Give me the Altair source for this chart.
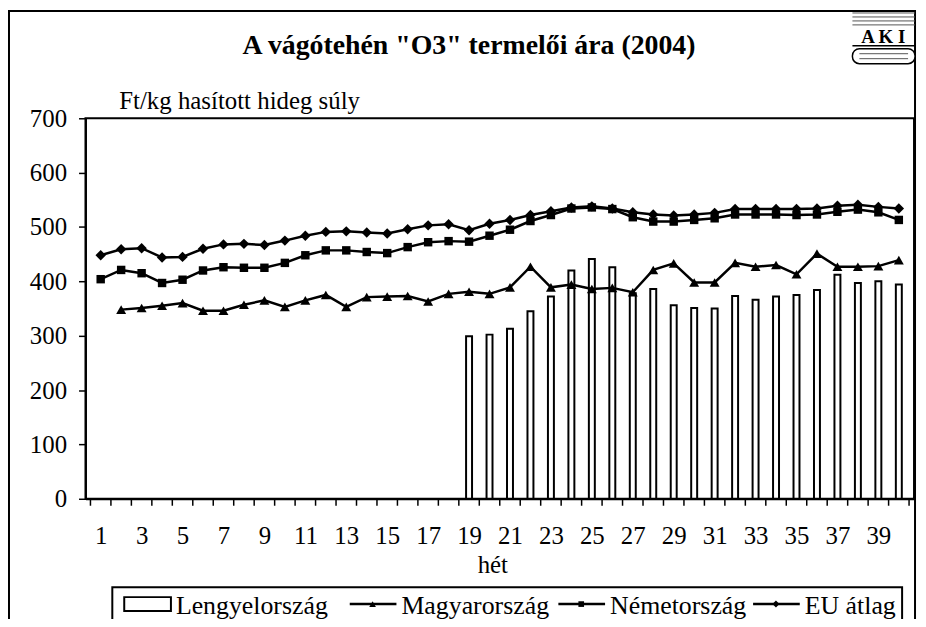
import altair as alt
import pandas as pd

weeks = list(range(1, 41))
poland = [None] * 18 + [299, 302, 313, 345, 372, 420, 441, 426, 378, 386, 356, 351,
                        350, 373, 366, 372, 375, 384, 412, 397, 400, 394]
hungary = [None, 348, 351, 355, 360, 346, 346, 357, 365, 353, 365, 375, 353, 371, 372,
           373, 363, 377, 381, 377, 389, 427, 389, 394, 386, 388, 380, 421, 433, 398,
           398, 434, 427, 430, 413, 451, 427, 427, 428, 439]
germany = [404, 421, 415, 397, 403, 420, 426, 425, 425, 434, 448, 457, 457, 454, 452,
           463, 472, 474, 473, 484, 495, 511, 522, 534, 536, 533, 518, 510, 510, 513,
           516, 523, 523, 523, 522, 523, 528, 532, 527, 513]
eu = [448, 459, 461, 444, 445, 460, 468, 469, 467, 475, 484, 491, 492, 490, 488, 496,
      503, 505, 494, 506, 513, 522, 529, 536, 538, 534, 527, 523, 521, 523, 526, 533,
      533, 533, 533, 534, 539, 541, 537, 534]
x_labels = list(range(1, 40, 2))
y_ticks = list(range(0, 701, 100))

title_text = 'A vágótehén "O3" termelői ára (2004)'
y_title = "Ft/kg hasított hideg súly"
x_title = "hét"
legend_names = ["Lengyelország", "Magyarország", "Németország", "EU átlag"]

FONT = "Times New Roman, Liberation Serif, serif"
W, H = 834, 383

df = pd.DataFrame({"week": weeks, "pl": poland, "hu": hungary, "de": germany, "eu": eu})
tick_df = pd.DataFrame({"b": [w - 0.5 for w in weeks] + [weeks[-1] + 0.5]})

xscale = alt.Scale(domain=[0.5, 40.5], nice=False, zero=False)
xaxis = alt.Axis(values=x_labels, ticks=False, tickSize=0, labelPadding=25, title=None,
                 domainWidth=2, labelFlush=False, labelOverlap=False, labelAngle=0,
                 labelFont=FONT)
yscale = alt.Scale(domain=[0, 700], nice=False, zero=True)
yaxis = alt.Axis(values=y_ticks, tickSize=7, tickWidth=1.5, labelPadding=12, title=None,
                 domainWidth=2, labelFont=FONT)


def X(f):
    return alt.X(f"{f}:Q", scale=xscale, axis=xaxis)


def Y(f):
    return alt.Y(f"{f}:Q", scale=yscale, axis=yaxis)


layers = []

one = pd.DataFrame({"t": [""]})
layers.append(alt.Chart(one).mark_rect(fillOpacity=0, stroke="black", strokeWidth=2).encode(
    x=alt.value(-77), x2=alt.value(835), y=alt.value(-108), y2=alt.value(530)))

bars = alt.Chart(df).mark_bar(size=6, fill="white", stroke="black", strokeWidth=2).encode(
    x=X("week"), y=Y("pl"))
layers.append(bars)

ticks = alt.Chart(tick_df).mark_rule(color="black", strokeWidth=1.5).encode(
    x=X("b"), y=alt.value(H), y2=alt.value(H + 7))
layers.append(ticks)

series = [("hu", "triangle-up", 100), ("de", "square", 72), ("eu", "diamond", 110)]
for f, shape, size in series:
    layers.append(alt.Chart(df).mark_line(color="black", strokeWidth=2.5).encode(
        x=X("week"), y=Y(f)))
    layers.append(alt.Chart(df).mark_point(shape=shape, size=size, filled=True, color="black",
                                           opacity=1).encode(x=X("week"), y=Y(f)))


def txt(s, x, y, size, bold=False, align="left"):
    return alt.Chart(pd.DataFrame({"t": [s]})).mark_text(
        font=FONT, fontSize=size, fontWeight="bold" if bold else "normal", align=align,
        baseline="alphabetic", color="black").encode(
        x=alt.value(x), y=alt.value(y), text="t:N")


layers.append(txt(title_text, 386, -65, 28, bold=True, align="center"))
layers.append(txt(y_title, 34, -9, 25))
layers.append(txt(x_title, 410, 458, 25, align="center"))

layers.append(alt.Chart(one).mark_rect(fill="white", stroke="black", strokeWidth=2).encode(
    x=alt.value(27), x2=alt.value(822), y=alt.value(472), y2=alt.value(540)))
layers.append(alt.Chart(one).mark_rect(fill="white", stroke="black", strokeWidth=2).encode(
    x=alt.value(39), x2=alt.value(86), y=alt.value(482), y2=alt.value(496)))
layers.append(txt(legend_names[0], 91, 499, 26))
for (f, shape, size), x0, name in zip(series, [266, 476, 672], legend_names[1:]):
    layers.append(alt.Chart(one).mark_rule(color="black", strokeWidth=2.5).encode(
        x=alt.value(x0), x2=alt.value(x0 + 47), y=alt.value(489)))
    layers.append(alt.Chart(one).mark_point(shape=shape, size=size * 0.45, filled=True,
                                            color="black", opacity=1).encode(
        x=alt.value(x0 + 23), y=alt.value(489)))
    layers.append(txt(name, x0 + 52, 499, 26))

for yy in [-106, -102, -98, -94]:
    layers.append(alt.Chart(one).mark_rule(color="#555", strokeWidth=1).encode(
        x=alt.value(772), x2=alt.value(835), y=alt.value(yy)))
layers.append(txt("A K I", 803, -76, 19, bold=True, align="center"))
layers.append(alt.Chart(one).mark_rule(color="black", strokeWidth=1.5).encode(
    x=alt.value(772), x2=alt.value(835), y=alt.value(-73)))
layers.append(alt.Chart(one).mark_rect(fill="white", stroke="black", strokeWidth=1.5,
                                       cornerRadius=7).encode(
    x=alt.value(772), x2=alt.value(835), y=alt.value(-70), y2=alt.value(-55)))
for yy in [-65, -60]:
    layers.append(alt.Chart(one).mark_rule(color="#555", strokeWidth=1).encode(
        x=alt.value(779), x2=alt.value(828), y=alt.value(yy)))

chart = alt.layer(*layers).properties(
    width=W, height=H,
    autosize=alt.AutoSizeParams(type="none"),
    padding={"left": 78, "top": 109, "right": 4, "bottom": 119},
).configure_axis(
    labelFont=FONT, labelFontSize=25, labelColor="black", domainColor="black",
    tickColor="black", grid=False,
).configure_view(stroke="black", strokeWidth=2)

chart.save("out.html", embed_options={"renderer": "svg", "actions": False})
